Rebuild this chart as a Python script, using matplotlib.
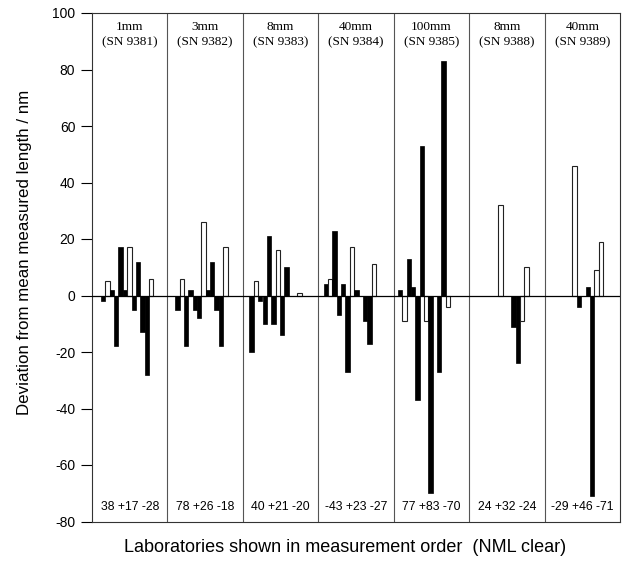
import matplotlib
matplotlib.use("Agg")
import matplotlib.pyplot as plt

plt.rcParams["axes.unicode_minus"] = False

# gauge blocks (panel titles)
sizes = ["1mm", "3mm", "8mm", "40mm", "100mm", "8mm", "40mm"]
serials = ["(SN 9381)", "(SN 9382)", "(SN 9383)", "(SN 9384)",
           "(SN 9385)", "(SN 9388)", "(SN 9389)"]
summaries = ["38 +17 -28", "78 +26 -18", "40 +21 -20", "-43 +23 -27",
             "77 +83 -70", "24 +32 -24", "-29 +46 -71"]

# deviation per laboratory slot, in measurement order (None = no result)
dev_9381 = [-2, 5, 2, -18, 17, 2, 17, -5, 12, -13, -28, 6]
dev_9382 = [-5, 6, -18, 2, -5, -8, 26, 2, 12, -5, -18, 17]
dev_9383 = [-20, 5, -2, -10, 21, -10, 16, -14, 10, None, None, 1]
dev_9384 = [4, 6, 23, -7, 4, -27, 17, 2, None, -9, -17, 11]
dev_9385 = [2, -9, 13, 3, -37, 53, -9, -70, None, -27, 83, -4]
dev_9388 = [None, None, None, None, None, None, 32, None, None, -11, -24, -9, 10]
dev_9389 = [None, None, None, None, None, None, 46, -4, None, 3, -71, 9, 19]
devs = [dev_9381, dev_9382, dev_9383, dev_9384, dev_9385, dev_9388, dev_9389]

# slots measured by NML (drawn clear)
nml_slots = [[1, 6, 11], [1, 6, 11], [1, 6, 11], [1, 6, 11], [1, 6, 11],
             [6, 11, 12], [6, 11, 12]]

SLOTS = 17          # slot spacing per panel
PANEL_W = 17.28     # panel width in slot units
X0 = -2.06          # left axis edge

fig = plt.figure(figsize=(6.28, 5.75), dpi=100)
ax = fig.add_axes([92/628, 1-521.5/575, 528/628, 508.5/575])

for p, vals in enumerate(devs):
    for i, v in enumerate(vals):
        if v is None:
            continue
        x = SLOTS*p + i
        if i in nml_slots[p]:
            ax.bar(x, v, width=1, align="edge", facecolor="white",
                   edgecolor="#222222", linewidth=0.8, zorder=2)
        else:
            ax.bar(x, v, width=1, align="edge", facecolor="black",
                   edgecolor="black", linewidth=0.5, zorder=2)

ax.axhline(0, color="black", linewidth=0.9, zorder=3)

for k in range(1, 7):
    ax.axvline(X0 + PANEL_W*k, color="#555555", linewidth=0.8, zorder=1)

for p in range(7):
    xc = X0 + PANEL_W*(p + 0.5)
    ax.text(xc, 95.2, sizes[p], ha="center", va="center",
            family="Liberation Serif", fontsize=9.5)
    ax.text(xc, 89.6, serials[p], ha="center", va="center",
            family="Liberation Serif", fontsize=9.5)
    ax.text(xc, -75, summaries[p], ha="center", va="center",
            family="Liberation Sans", fontsize=8.8)

ax.set_xlim(X0, X0 + PANEL_W*7)
ax.set_ylim(-80, 100)
ax.set_yticks(range(-80, 101, 20))
ax.set_xticks([])
ax.tick_params(axis="y", direction="out", length=8, width=0.8,
               labelsize=10, pad=4)
for lab in ax.get_yticklabels():
    lab.set_family("Liberation Sans")
for s in ax.spines.values():
    s.set_linewidth(0.8)
    s.set_color("#333333")

fig.text(25/628, 1-252/575, "Deviation from mean measured length / nm",
         rotation=90, ha="center", va="center",
         family="Liberation Sans", fontsize=12.2)
fig.text(345/628, 1-548/575,
         "Laboratories shown in measurement order  (NML clear)",
         ha="center", va="center", family="Liberation Sans", fontsize=13)

fig.savefig("out.png", dpi=100)
